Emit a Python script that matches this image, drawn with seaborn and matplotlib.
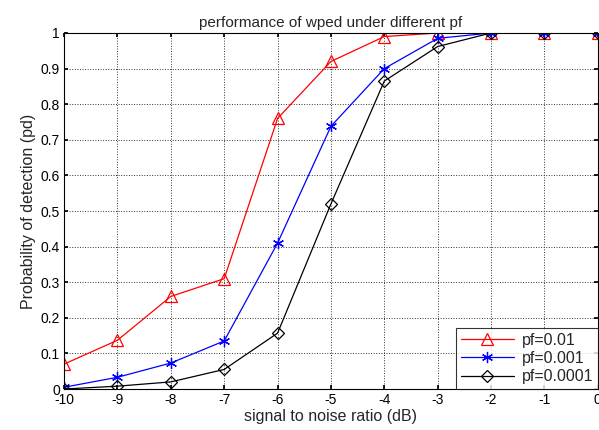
import matplotlib
matplotlib.use("Agg")
import matplotlib.pyplot as plt
import seaborn as sns
import pandas as pd

snr = [-10, -9, -8, -7, -6, -5, -4, -3, -2, -1, 0]
pd_001 = [0.07, 0.137, 0.26, 0.31, 0.76, 0.92, 0.99, 1.0, 1.0, 1.0, 1.0]
pd_0001 = [0.005, 0.033, 0.073, 0.135, 0.41, 0.738, 0.90, 0.985, 1.0, 1.0, 1.0]
pd_00001 = [0.0, 0.008, 0.02, 0.055, 0.157, 0.52, 0.865, 0.962, 1.0, 1.0, 1.0]
labels = ["pf=0.01", "pf=0.001", "pf=0.0001"]

sns.set_theme(style="white")
plt.rcParams['font.family'] = ['Liberation Sans', 'DejaVu Sans']

fig = plt.figure(figsize=(5.99, 4.30), dpi=100)
ax = fig.add_axes([0.107, 0.0953, 0.891, 0.828])

series = [pd_001, pd_0001, pd_00001]
colors = ["#ff0000", "#0000ff", "#000000"]
markers = ["^", (6, 2, 0), "D"]
msizes = [9, 8, 6]
for y, lab, c, m, ms in zip(series, labels, colors, markers, msizes):
    df = pd.DataFrame({"snr": snr, "pd": y})
    sns.lineplot(data=df, x="snr", y="pd", ax=ax, color=c, label=lab,
                 marker=m, markersize=ms, markerfacecolor="none",
                 markeredgecolor=c, markeredgewidth=0.9, linewidth=0.9)

ax.set_xlim(-10, 0)
ax.set_ylim(0, 1)
ax.set_xticks(snr)
ax.set_xticklabels([str(v) for v in snr])
yt = [i / 10 for i in range(11)]
ax.set_yticks(yt)
ax.set_yticklabels(["0"] + [f"{v:.1f}" for v in yt[1:-1]] + ["1"])
ax.grid(True, color="#333333", linestyle=":", linewidth=0.7)
ax.tick_params(direction="in", length=3, labelsize=10, top=True, right=True,
               bottom=True, left=True, colors="black", pad=3)
for s in ax.spines.values():
    s.set_color("black")
    s.set_linewidth(0.8)
ax.set_xlabel("signal to noise ratio (dB)", fontsize=11.5, labelpad=1)
ax.set_ylabel("Probability of detection (pd)", fontsize=11.5, labelpad=3)
ax.set_title("performance of wped under different pf", fontsize=11, pad=4)

leg = ax.legend(loc="lower right", fontsize=11.5, frameon=True, fancybox=False,
                edgecolor="black", borderaxespad=0.0, handlelength=3.3,
                labelspacing=0.2, borderpad=0.3, handletextpad=0.5)
leg.get_frame().set_linewidth(0.8)

fig.savefig("out.png", dpi=100)
